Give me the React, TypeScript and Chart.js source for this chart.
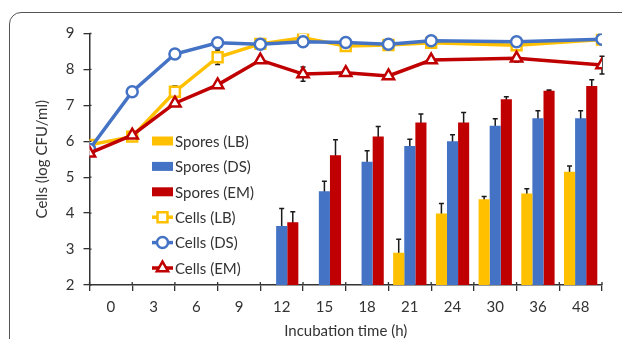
import { useEffect, useRef } from 'react';
import { Chart, registerables } from 'chart.js';
Chart.register(...registerables);

const categories = ['0', '3', '6', '9', '12', '15', '18', '21', '24', '30', '36', '48'];
const sporesLB = [null, null, null, null, null, null, null, 2.9, 3.99, 4.39, 4.55, 5.15];
const sporesLBErr = [0, 0, 0, 0, 0, 0, 0, 0.37, 0.28, 0.07, 0.13, 0.16];
const sporesDS = [null, null, null, null, 3.64, 4.61, 5.43, 5.87, 6.0, 6.43, 6.64, 6.64];
const sporesDSErr = [0, 0, 0, 0, 0.49, 0.28, 0.31, 0.19, 0.18, 0.2, 0.21, 0.21];
const sporesEM = [null, null, null, null, 3.75, 5.61, 6.13, 6.52, 6.52, 7.17, 7.41, 7.54];
const sporesEMErr = [0, 0, 0, 0, 0.29, 0.43, 0.28, 0.24, 0.28, 0.07, 0.02, 0.17];

const cellSlots = [0, 1, 2, 3, 4, 5, 6, 7, 8, 10, 12];
const cellsLB = [5.9, 6.13, 7.38, 8.34, 8.71, 8.88, 8.65, 8.68, 8.74, 8.67, 8.83];
const cellsLBErr = [0, 0, 0.16, 0.2, 0, 0, 0, 0, 0, 0, 0];
const cellsDS = [5.78, 7.38, 8.43, 8.74, 8.7, 8.77, 8.75, 8.7, 8.8, 8.77, 8.84];
const cellsDSErr = [0, 0, 0, 0, 0, 0, 0, 0, 0, 0, 0];
const cellsEM = [5.67, 6.17, 7.06, 7.57, 8.26, 7.87, 7.91, 7.82, 8.26, 8.31, 8.12];
const cellsEMErr = [0, 0, 0, 0, 0, 0.2, 0, 0, 0, 0.1, 0.25];

const yMin = 2;
const yMax = 9;

const YELLOW = '#FFC000';
const BLUE = '#4472C4';
const RED = '#C00000';
const TEXT = '#333333';
const FONT = 'Lato';

const errorBarPlugin = {
  id: 'errorBars',
  beforeDatasetsDraw(chart: any) {
    const ctx = chart.ctx;
    const y = chart.scales.y;
    chart.data.datasets.forEach((ds: any, i: number) => {
      if (!ds.errors) return;
      const meta = chart.getDatasetMeta(i);
      meta.data.forEach((el: any, j: number) => {
        const err = ds.errors[j];
        const raw = ds.data[j];
        const v = typeof raw === 'object' && raw !== null ? raw.y : raw;
        if (!err || v == null) return;
        const top = y.getPixelForValue(v + err);
        const bot = y.getPixelForValue(v - err);
        ctx.save();
        ctx.strokeStyle = '#1a1a1a';
        ctx.lineWidth = 1.5;
        ctx.beginPath();
        ctx.moveTo(el.x, top);
        ctx.lineTo(el.x, bot);
        ctx.moveTo(el.x - 2.5, top);
        ctx.lineTo(el.x + 2.5, top);
        ctx.moveTo(el.x - 2.5, bot);
        ctx.lineTo(el.x + 2.5, bot);
        ctx.stroke();
        ctx.restore();
      });
    });
  },
};

// small inner half of the "cross" tick marks on both axes
const crossTicksPlugin = {
  id: 'crossTicks',
  afterDraw(chart: any) {
    const ctx = chart.ctx;
    const xs = chart.scales.x;
    const ys = chart.scales.y;
    const area = chart.chartArea;
    ctx.save();
    ctx.strokeStyle = '#333';
    ctx.lineWidth = 1.3;
    ctx.beginPath();
    for (let i = 0; i <= categories.length; i++) {
      const px = area.left + (i * (area.right - area.left)) / categories.length;
      ctx.moveTo(px, area.bottom);
      ctx.lineTo(px, area.bottom - 3);
    }
    for (let v = yMin; v <= yMax; v++) {
      const py = ys.getPixelForValue(v);
      ctx.moveTo(area.left, py);
      ctx.lineTo(area.left + 2, py);
    }
    ctx.stroke();
    ctx.restore();
    void xs;
  },
};

function drawMarker(ctx: CanvasRenderingContext2D, style: string, x: number, y: number, r: number, color: string, bw: number) {
  ctx.beginPath();
  if (style === 'circle') {
    ctx.arc(x, y, r, 0, Math.PI * 2);
  } else if (style === 'rect') {
    const s = r * Math.SQRT1_2;
    ctx.rect(x - s, y - s, 2 * s, 2 * s);
  } else {
    ctx.moveTo(x, y - r);
    ctx.lineTo(x + r * Math.sin(Math.PI / 3), y + r / 2);
    ctx.lineTo(x - r * Math.sin(Math.PI / 3), y + r / 2);
    ctx.closePath();
  }
  ctx.fillStyle = '#ffffff';
  ctx.fill();
  ctx.strokeStyle = color;
  ctx.lineWidth = bw;
  ctx.stroke();
}

const legendPlugin = {
  id: 'insideLegend',
  afterDraw(chart: any) {
    const ctx = chart.ctx;
    const x0 = 152;
    const sw = 21;
    const rowY0 = 141;
    const rowStep = 25.4;
    ctx.save();
    chart.data.datasets.forEach((ds: any, k: number) => {
      const cy = rowY0 + k * rowStep;
      if (ds.type === 'line') {
        ctx.strokeStyle = ds.borderColor;
        ctx.lineWidth = 3.5;
        ctx.beginPath();
        ctx.moveTo(x0, cy);
        ctx.lineTo(x0 + sw, cy);
        ctx.stroke();
        drawMarker(ctx, ds.pointStyle, x0 + sw / 2, cy, ds.pointRadius, ds.borderColor, 2.5);
      } else {
        ctx.fillStyle = ds.backgroundColor;
        ctx.fillRect(x0, cy - 4.5, sw, 9);
      }
      ctx.fillStyle = TEXT;
      ctx.font = `15px ${FONT}`;
      ctx.textBaseline = 'middle';
      ctx.textAlign = 'left';
      ctx.fillText(ds.label, x0 + sw + 2, cy + 1);
    });
    ctx.restore();
  },
};

export default function App() {
  const ref = useRef<HTMLCanvasElement>(null);
  useEffect(() => {
    if (!ref.current) return;
    const lineDs = (label: string, values: number[], errs: number[], color: string, style: string, r: number, order: number) => ({
      type: 'line' as const,
      label,
      data: cellSlots.map((s, i) => ({ x: s, y: values[i] })),
      errors: errs,
      xAxisID: 'xl',
      borderColor: color,
      backgroundColor: '#ffffff',
      borderWidth: 3.5,
      pointStyle: style,
      pointRadius: r,
      pointBorderWidth: 2.5,
      pointBackgroundColor: '#ffffff',
      pointBorderColor: color,
      tension: 0,
      order,
    });
    const barDs = (label: string, values: (number | null)[], errs: number[], color: string, order: number) => ({
      type: 'bar' as const,
      label,
      data: categories.map((_, i) => ({ x: i + 0.5, y: values[i] })),
      errors: errs,
      xAxisID: 'xl',
      backgroundColor: color,
      borderWidth: 0,
      categoryPercentage: 0.78,
      barPercentage: 1,
      order,
    });
    const chart = new Chart(ref.current, {
      type: 'bar',
      data: {
        labels: categories,
        datasets: [
          barDs('Spores (LB)', sporesLB, sporesLBErr, YELLOW, 3),
          barDs('Spores (DS)', sporesDS, sporesDSErr, BLUE, 4),
          barDs('Spores (EM)', sporesEM, sporesEMErr, RED, 5),
          lineDs('Cells (LB)', cellsLB, cellsLBErr, YELLOW, 'rect', 7, 2),
          lineDs('Cells (DS)', cellsDS, cellsDSErr, BLUE, 'circle', 5.5, 1),
          lineDs('Cells (EM)', cellsEM, cellsEMErr, RED, 'triangle', 6.5, 0),
        ] as any,
      },
      options: {
        animation: false,
        responsive: false,
        devicePixelRatio: 1,
        layout: { padding: { top: 33.5, right: 20, left: 0, bottom: 0 } },
        plugins: { legend: { display: false }, tooltip: { enabled: false } },
        scales: {
          x: {
            type: 'category',
            offset: true,
            grid: { display: true, drawOnChartArea: false, drawTicks: true, tickLength: 6, color: '#333', offset: true, lineWidth: 1.3 },
            border: { display: true, color: '#333', width: 1.5 },
            ticks: { color: TEXT, font: { family: FONT, size: 15 }, padding: 7 },
            title: { display: true, text: 'Incubation time (h)', color: TEXT, font: { family: FONT, size: 15, lineHeight: 1 }, padding: { top: 0, bottom: 0 } },
            afterFit: (s: any) => { s.height = 54; },
          },
          xl: {
            type: 'linear',
            position: 'bottom',
            min: 0,
            max: 12,
            offset: false,
            display: false,
          },
          y: {
            type: 'linear',
            min: yMin,
            max: yMax,
            ticks: { stepSize: 1, color: TEXT, font: { family: FONT, size: 15 }, padding: 9 },
            grid: { display: true, drawOnChartArea: false, drawTicks: true, tickLength: 6, color: '#333', lineWidth: 1.3 },
            border: { display: true, color: '#333', width: 1.5 },
            title: { display: true, text: 'Cells (log CFU/ml)', color: TEXT, font: { family: FONT, size: 15, lineHeight: 1 }, padding: { top: 34.5, bottom: 0 } },
            afterFit: (s: any) => { s.width = 89.5; },
          },
        } as any,
      },
      plugins: [errorBarPlugin, crossTicksPlugin, legendPlugin],
    });
    return () => chart.destroy();
  }, []);

  return (
    <div style={{ position: 'fixed', left: 0, top: 0, width: 622, height: 339, overflow: 'hidden', background: '#fff' }}>
      <div style={{ position: 'absolute', left: 8.5, top: 11.5, width: 900, height: 600, border: '1.5px solid #555', borderRadius: 12 }} />
      <canvas ref={ref} width={622} height={339} style={{ position: 'absolute', left: 0, top: 0, width: 622, height: 339 }} />
    </div>
  );
}
